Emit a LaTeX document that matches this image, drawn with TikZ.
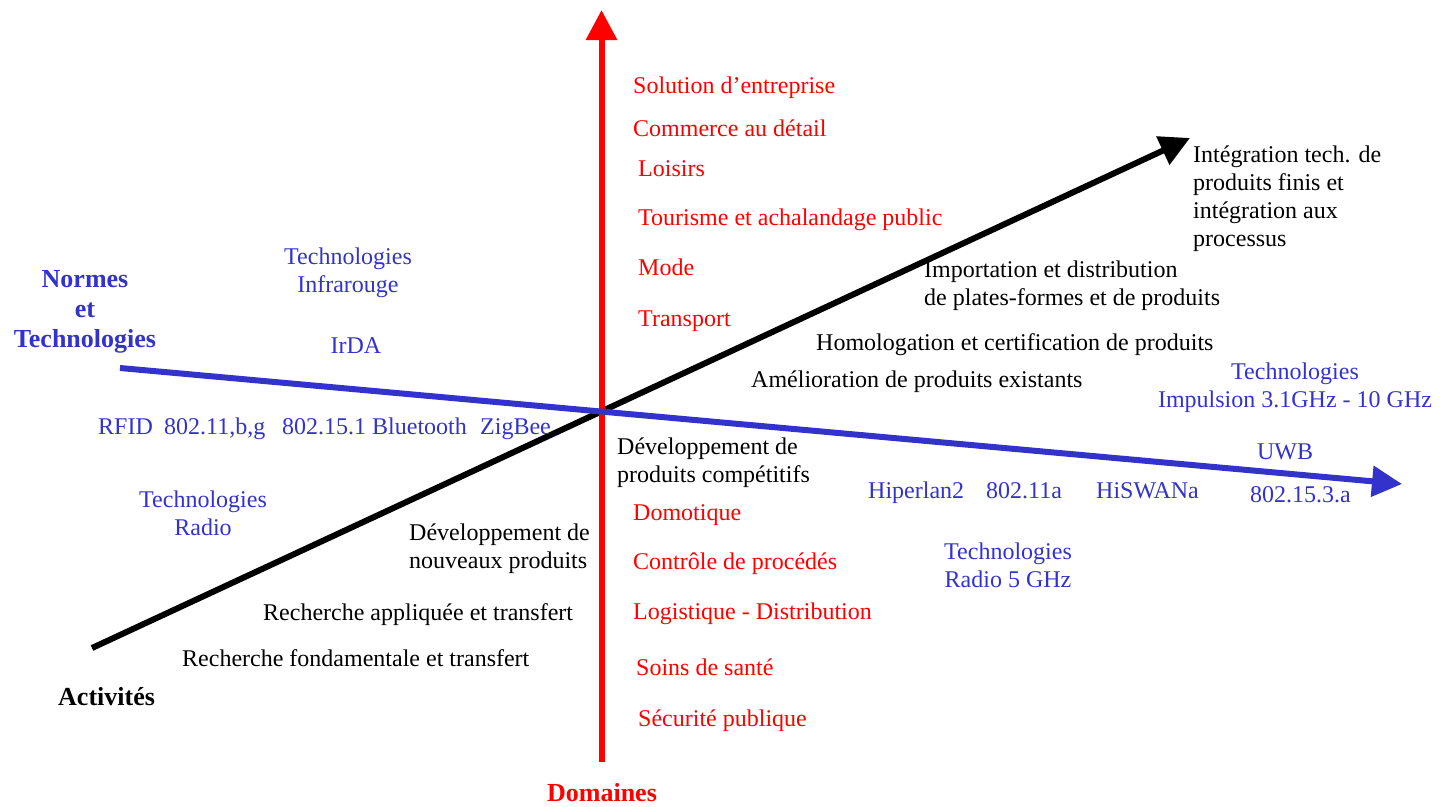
\documentclass[tikz,border=0pt]{standalone}
\usepackage{fontspec}
\setmainfont{Liberation Serif}
\usetikzlibrary{arrows.meta}
\definecolor{myred}{RGB}{255,0,0}
\definecolor{myblue}{RGB}{51,51,204}
\begin{document}
\begin{tikzpicture}[x=1pt,y=-1pt,
  lbl/.style={inner sep=0pt,font=\fontsize{24}{28}\selectfont},
  ttl/.style={inner sep=0pt,font=\fontsize{26}{30}\selectfont\bfseries},
  rd/.style={lbl,text=myred,anchor=base west},
  bl/.style={lbl,text=myblue},
  bk/.style={lbl,text=black},
  axisline/.style={line width=6pt,-{Triangle[length=30pt,width=30pt]}}]
\useasboundingbox (0,0) rectangle (1447,806);
% axes
\coordinate (ks) at (92,648); \coordinate (ke) at (1190,138);
\coordinate (rs) at (601.5,762); \coordinate (re) at (601.5,10);
\coordinate (bs) at (120,368); \coordinate (be) at (1402,484);
\draw[axisline,black] (ks) -- (ke);
\draw[axisline,myred] (rs) -- (re);
\draw[axisline,myblue] (bs) -- (be);
% red domains
\node[rd] (r1) at (633,93) {Solution d’entreprise};
\node[rd] (r2) at (633,136) {Commerce au détail};
\node[rd] (r3) at (638,176) {Loisirs};
\node[rd] (r4) at (638,225) {Tourisme et achalandage public};
\node[rd] (r5) at (638,275) {Mode};
\node[rd] (r6) at (638,326) {Transport};
\node[rd] (r7) at (633,520) {Domotique};
\node[rd] (r8) at (633,569) {Contrôle de procédés};
\node[rd] (r9) at (633,619) {Logistique - Distribution};
\node[rd] (r10) at (636,675) {Soins de santé};
\node[rd] (r11) at (638,726) {Sécurité publique};
\node[ttl,text=myred] (dom) at (602,793) {Domaines};
% black activities
\node[bk,anchor=west,align=left] (a1) at (1193,199) {Intégration tech. de\\produits finis et\\intégration aux\\processus};
\node[bk,anchor=west,align=left] (a2) at (924,286) {Importation et distribution\\de plates-formes et de produits};
\node[bk,anchor=base west] (a3) at (816,350) {Homologation et certification de produits};
\node[bk,anchor=base west] (a4) at (751,387) {Amélioration de produits existants};
\node[bk,anchor=west,align=left] (a5) at (617,463) {Développement de\\produits compétitifs};
\node[bk,anchor=west,align=left] (a6) at (409,549) {Développement de\\nouveaux produits};
\node[bk,anchor=base west] (a7) at (263,620) {Recherche appliquée et transfert};
\node[bk,anchor=base west] (a8) at (182,666) {Recherche fondamentale et transfert};
\node[ttl,anchor=west] (act) at (58,697) {Activités};
% blue technologies
\node[ttl,text=myblue,align=center] (nt) at (85,312) {Normes\\et\\Technologies};
\node[bl,align=center] (b1) at (348,273) {Technologies\\Infrarouge};
\node[bl,anchor=base] (b2) at (356,353) {IrDA};
\node[bl,anchor=base west] (b3) at (98,434) {RFID};
\node[bl,anchor=base west] (b4) at (164,434) {802.11,b,g};
\node[bl,anchor=base west] (b5) at (282,434) {802.15.1 Bluetooth};
\node[bl,anchor=base west] (b6) at (480,434) {ZigBee};
\node[bl,align=center] (b7) at (203,513) {Technologies\\Radio};
\node[bl,align=center] (b8) at (1295,388) {Technologies\\Impulsion 3.1GHz - 10 GHz};
\node[bl,anchor=base] (b9) at (1285,459) {UWB};
\node[bl,anchor=base west] (b10) at (1250,502) {802.15.3.a};
\node[bl,anchor=base west] (b11) at (868,498) {Hiperlan2};
\node[bl,anchor=base west] (b12) at (986,498) {802.11a};
\node[bl,anchor=base west] (b13) at (1096,498) {HiSWANa};
\node[bl,align=center] (b14) at (1008,565) {Technologies\\Radio 5 GHz};
\end{tikzpicture}
\end{document}
